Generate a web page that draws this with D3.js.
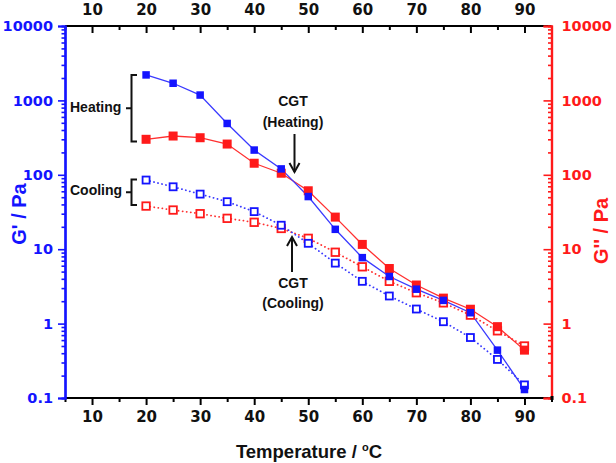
<!DOCTYPE html>
<html><head><meta charset="utf-8">
<script src="https://cdn.jsdelivr.net/npm/d3@7"></script>
<style>body{margin:0;background:#fff}svg{display:block}</style>
</head><body>
<script>
const temps = [20,25,30,35,40,45,50,55,60,65,70,75,80,85,90];
const gpHeat  = [2200,1700,1180,490,215,120,51,18.5,7.7,4.3,2.9,2.05,1.4,0.44,0.13];
const gppHeat = [300,332,315,259,143,105,61,27,11.6,5.5,3.3,2.2,1.56,0.91,0.44];
const gpCool  = [85,69,55,43.5,32,21,12,6.5,3.7,2.35,1.57,1.06,0.65,0.33,0.15];
const gppCool = [38,33.6,30,26,23,19,14,9.1,5.8,3.7,2.6,1.9,1.3,0.8,0.5];
const xMajor = [10,20,30,40,50,60,70,80,90];
const yMajor = [0.1,1,10,100,1000,10000];

const W=616,H=463;
const blue="#1414ff", red="#ff1a1a", blueLine="#3a3aff", redLine="#ff3030";
const svg=d3.select("body").append("svg").attr("width",W).attr("height",H);
const x=d3.scaleLinear().domain([5,95]).range([65,551.5]);
const y=d3.scaleLog().domain([0.1,10000]).range([398,26]);
const tickFont="'DejaVu Sans', sans-serif";

const xMinor=d3.range(5,96,5).filter(v=>v%10!==0);
const yMinor=[];
for(let d=-1;d<4;d++){for(let k=2;k<=9;k++) yMinor.push(k*Math.pow(10,d));}

// bottom axis
const gb=svg.append("g").attr("transform","translate(0,398)");
gb.call(d3.axisBottom(x).tickValues(xMinor).tickSize(4).tickFormat(""));
gb.selectAll(".tick line").attr("stroke","#000").attr("stroke-width",2);
const gb2=svg.append("g").attr("transform","translate(0,398)");
gb2.call(d3.axisBottom(x).tickValues(xMajor).tickSize(7).tickPadding(6).tickFormat(d3.format("d")));
gb2.selectAll(".tick line").attr("stroke","#000").attr("stroke-width",2);
gb2.selectAll(".tick text").attr("font-family",tickFont).attr("font-weight","bold").attr("font-size","15px").attr("fill","#111");
[gb,gb2].forEach(g=>g.select(".domain").remove());

// top axis
const gt=svg.append("g").attr("transform","translate(0,26)");
gt.call(d3.axisBottom(x).tickValues(xMinor).tickSize(4).tickFormat(""));
gt.selectAll(".tick line").attr("stroke","#000").attr("stroke-width",2);
const gt2=svg.append("g").attr("transform","translate(0,26)");
gt2.call(d3.axisTop(x).tickValues(xMajor).tickSize(0).tickPadding(11).tickFormat(d3.format("d")));
gt2.selectAll(".tick text").attr("font-family",tickFont).attr("font-weight","bold").attr("font-size","15px").attr("fill","#111");
const gt3=svg.append("g").attr("transform","translate(0,26)");
gt3.call(d3.axisBottom(x).tickValues(xMajor).tickSize(7).tickFormat(""));
gt3.selectAll(".tick line").attr("stroke","#000").attr("stroke-width",2);
[gt,gt2,gt3].forEach(g=>g.select(".domain").remove());
svg.append("line").attr("x1",x(5)).attr("x2",x(95)).attr("y1",26).attr("y2",26).attr("stroke","#000").attr("stroke-width",2);
svg.append("line").attr("x1",x(5)).attr("x2",x(95)).attr("y1",398).attr("y2",398).attr("stroke","#000").attr("stroke-width",2);

// left axis
const gl=svg.append("g").attr("transform",`translate(${x(5)},0)`);
gl.call(d3.axisLeft(y).tickValues(yMinor).tickSize(3.5).tickFormat(""));
const gl2=svg.append("g").attr("transform",`translate(${x(5)},0)`);
gl2.call(d3.axisLeft(y).tickValues(yMajor).tickSize(7).tickPadding(5).tickFormat(d=>String(d)));
[gl,gl2].forEach(g=>{g.select(".domain").attr("stroke",blue).attr("stroke-width",2.2);g.selectAll(".tick line").attr("stroke",blue).attr("stroke-width",1.6);});
gl2.selectAll(".tick text").attr("font-family",tickFont).attr("font-weight","bold").attr("font-size","14.5px").attr("fill",blue);

// right axis
const gr=svg.append("g").attr("transform",`translate(${x(95)},0)`);
gr.call(d3.axisLeft(y).tickValues(yMinor).tickSize(3.5).tickFormat(""));
const gr2=svg.append("g").attr("transform",`translate(${x(95)},0)`);
gr2.call(d3.axisLeft(y).tickValues(yMajor).tickSize(8).tickFormat(""));
[gr,gr2].forEach(g=>{g.select(".domain").attr("stroke",red).attr("stroke-width",2.2);g.selectAll(".tick line").attr("stroke",red).attr("stroke-width",1.6);});
const gr3=svg.append("g").attr("transform",`translate(${x(95)},0)`);
gr3.call(d3.axisRight(y).tickValues(yMajor).tickSize(0).tickPadding(10).tickFormat(d=>String(d)));
gr3.select(".domain").remove();
gr3.selectAll(".tick text").attr("font-family",tickFont).attr("font-weight","bold").attr("font-size","14.5px").attr("fill",red);
svg.append("rect").attr("x",x(95)-1).attr("y",396).attr("width",3).attr("height",4).attr("fill","#000");

// axis titles
const titleFont="'Liberation Sans', Arial, sans-serif";
svg.append("text").attr("transform","translate(26,214) rotate(-90)").attr("text-anchor","middle")
  .attr("font-family",titleFont).attr("font-weight","bold").attr("font-size","20px").attr("fill",blue).text("G' / Pa");
svg.append("text").attr("transform","translate(608,231) rotate(-90)").attr("text-anchor","middle")
  .attr("font-family",titleFont).attr("font-weight","bold").attr("font-size","20px").attr("fill",red).text("G'' / Pa");
const xt=svg.append("text").attr("x",309).attr("y",458).attr("text-anchor","middle")
  .attr("font-family",titleFont).attr("font-weight","bold").attr("font-size","18.5px").attr("fill","#111");
xt.append("tspan").text("Temperature / ");
xt.append("tspan").attr("font-size","11px").attr("dy","-7").text("o");
xt.append("tspan").attr("dy","7").text("C");

// series
const series=[
 {vals:gppCool,color:redLine,mcolor:red,filled:false,dash:"0.1,4",size:7.5},
 {vals:gpCool,color:blueLine,mcolor:blue,filled:false,dash:"0.1,4",size:7},
 {vals:gppHeat,color:redLine,mcolor:red,filled:true,dash:null,size:9},
 {vals:gpHeat,color:blueLine,mcolor:blue,filled:true,dash:null,size:7.5}
];
const line=d3.line().x(d=>x(d[0])).y(d=>y(d[1]));
series.forEach(s=>{
  const pts=temps.map((t,i)=>[t,s.vals[i]]);
  svg.append("path").datum(pts).attr("d",line).attr("fill","none").attr("stroke",s.color)
    .attr("stroke-width",s.dash?1.8:1.3).attr("stroke-dasharray",s.dash).attr("stroke-linecap","round");
});
series.forEach(s=>{
  const pts=temps.map((t,i)=>[t,s.vals[i]]);
  svg.append("g").selectAll("rect").data(pts).join("rect")
    .attr("x",d=>x(d[0])-s.size/2).attr("y",d=>y(d[1])-s.size/2)
    .attr("width",s.size).attr("height",s.size)
    .attr("fill",s.filled?s.mcolor:"#fff").attr("stroke",s.mcolor).attr("stroke-width",s.filled?0:1.8);
});

// annotations
const annFont="'Liberation Sans', Arial, sans-serif";
function ann(tx,ty,str){svg.append("text").attr("x",tx).attr("y",ty).attr("text-anchor","middle")
  .attr("font-family",annFont).attr("font-weight","bold").attr("font-size","14px").attr("fill","#111").text(str);}
svg.append("text").attr("x",70).attr("y",112).attr("font-family",annFont).attr("font-weight","bold").attr("font-size","14px").attr("fill","#111").text("Heating");
svg.append("text").attr("x",70).attr("y",195).attr("font-family",annFont).attr("font-weight","bold").attr("font-size","14px").attr("fill","#111").text("Cooling");
function bracket(y0,y1){const m=(y0+y1)/2;
  svg.append("path").attr("d",`M137,${y0} L131.5,${y0} L131.5,${y1} L137,${y1} M131.5,${m} L126,${m}`)
   .attr("fill","none").attr("stroke","#111").attr("stroke-width",2);}
bracket(75,141.5);
bracket(179.5,205);
ann(293,106,"CGT");
ann(293,127,"(Heating)");
ann(293,288,"CGT");
ann(293,308,"(Cooling)");
function arrow(ax,y0,y1){
  svg.append("line").attr("x1",ax).attr("x2",ax).attr("y1",y0).attr("y2",y1).attr("stroke","#111").attr("stroke-width",2);
  const dir=y1>y0?1:-1;
  svg.append("path").attr("d",`M${ax-5},${y1-dir*9} L${ax},${y1} L${ax+5},${y1-dir*9}`).attr("fill","none").attr("stroke","#111").attr("stroke-width",2);
}
arrow(294.5,134,172);
arrow(292,272,237);
</script>
</body></html>
